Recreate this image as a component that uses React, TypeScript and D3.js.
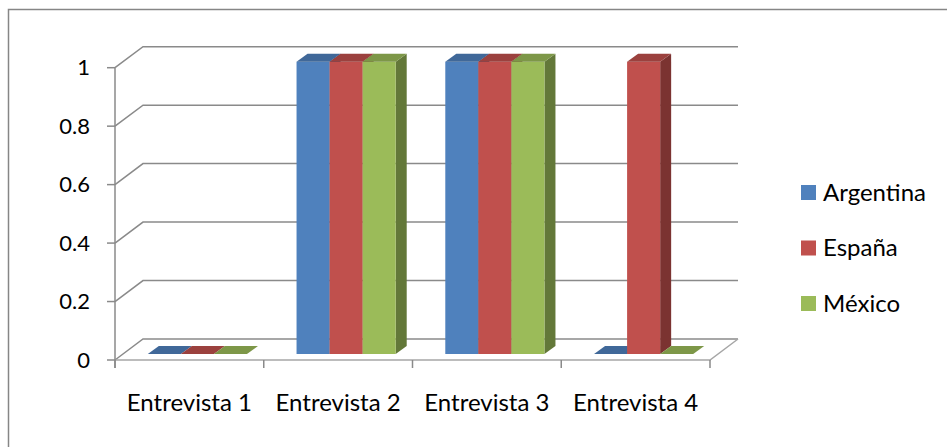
import React from "react";
import * as d3 from "d3";

const categories = ["Entrevista 1", "Entrevista 2", "Entrevista 3", "Entrevista 4"];
const seriesNames = ["Argentina", "España", "México"];
const argentina = [0, 1, 1, 0];
const espana = [0, 1, 1, 1];
const mexico = [0, 1, 1, 0];
const yTicks = [0, 0.2, 0.4, 0.6, 0.8, 1];
const yTickLabels = ["0", "0.2", "0.4", "0.6", "0.8", "1"];
const colors = ["#4F81BD", "#C0504D", "#9BBB59"];

const W = 947;
const H = 447;
const FONT = "Lato, 'Open Sans', sans-serif";

// geometry
const X0 = 115, X1 = 710;
const Y0 = 360, Y1 = 67.7;
const DX = 28, DY = -21; // wall depth
const BX = 8, BY = -6; // bar front offset
const TX = 11, TY = -8; // bar thickness

export default function App() {
  const seriesData = [argentina, espana, mexico];
  const x = d3.scaleBand<string>().domain(categories).range([X0, X1]).paddingInner(0).paddingOuter(0);
  const bw = x.bandwidth();
  const gap = (bw * 0.75) / 4.5;
  const xs = d3.scaleBand<string>().domain(seriesNames).range([gap, bw - gap]).padding(0);
  const y = d3.scaleLinear().domain([0, 1]).range([Y0, Y1]);
  const w = xs.bandwidth();
  const gridColor = "#8a8a8a";

  const bars: React.ReactNode[] = [];
  categories.forEach((c, ci) => {
    seriesNames.forEach((s, si) => {
      const v = seriesData[si][ci];
      const col = d3.color(colors[si])!;
      const topCol = col.darker(0.6).formatHex();
      const sideCol = col.darker(1.25).formatHex();
      const bx0 = (x(c) as number) + (xs(s) as number) + BX;
      const bx1 = bx0 + w;
      const yt = y(v) + BY;
      const yb = y(0) + BY;
      const key = `${ci}-${si}`;
      const top = `M${bx0},${yt}L${bx1},${yt}L${bx1 + TX},${yt + TY}L${bx0 + TX},${yt + TY}Z`;
      if (v > 0) {
        const side = `M${bx1},${yt}L${bx1 + TX},${yt + TY}L${bx1 + TX},${yb + TY}L${bx1},${yb}Z`;
        bars.push(
          <g key={key}>
            <path d={side} fill={sideCol} />
            <rect x={bx0} y={yt} width={w} height={yb - yt} fill={colors[si]} />
            <path d={top} fill={topCol} />
          </g>
        );
      } else {
        bars.push(<path key={key} d={top} fill={topCol} />);
      }
    });
  });

  return (
    <svg width={W} height={H} style={{ position: "fixed", left: 0, top: 0, background: "#fff" }}>
      <rect x={8.5} y={9.5} width={W + 20} height={H + 20} fill="#fff" stroke="#868686" strokeWidth={1.5} />
      {/* gridlines on side and back walls */}
      {yTicks.map((t) => (
        <path
          key={"g" + t}
          d={`M${X0},${y(t)}L${X0 + DX},${y(t) + DY}L${X1 + DX},${y(t) + DY}`}
          fill="none"
          stroke={gridColor}
          strokeWidth={1.5}
        />
      ))}
      {/* floor edges */}
      <path d={`M${X0},${Y0}L${X1},${Y0}L${X1 + DX},${Y0 + DY}`} fill="none" stroke="#a6a6a6" strokeWidth={1.5} />
      {/* vertical axis */}
      <line x1={X0} y1={Y1} x2={X0} y2={Y0 + 8} stroke={gridColor} strokeWidth={1.5} />
      {yTicks.map((t) => (
        <line key={"t" + t} x1={X0 - 8} y1={y(t)} x2={X0} y2={y(t)} stroke={gridColor} strokeWidth={1.5} />
      ))}
      {[...categories.map((c) => x(c) as number), X1].map((px, i) => (
        <line key={"xt" + i} x1={px} y1={Y0} x2={px} y2={Y0 + 8} stroke={gridColor} strokeWidth={1.5} />
      ))}
      {bars}
      {/* y labels */}
      {yTicks.map((t, i) => (
        <text key={"yl" + t} x={90} y={y(t)} dy="0.35em" textAnchor="end" fontFamily={FONT} fontSize={22} fill="#000">
          {yTickLabels[i]}
        </text>
      ))}
      {/* x labels */}
      {categories.map((c) => (
        <text key={"xl" + c} x={(x(c) as number) + bw / 2} y={411} textAnchor="middle" fontFamily={FONT} fontSize={24} fill="#000">
          {c}
        </text>
      ))}
      {/* legend */}
      {seriesNames.map((s, i) => (
        <g key={"lg" + s} transform={`translate(801,${192.5 + i * 55.5})`}>
          <rect x={0} y={-7.5} width={15} height={15} fill={colors[i]} />
          <text x={22} y={0} dy="0.35em" fontFamily={FONT} fontSize={24} fill="#000">
            {s}
          </text>
        </g>
      ))}
    </svg>
  );
}
